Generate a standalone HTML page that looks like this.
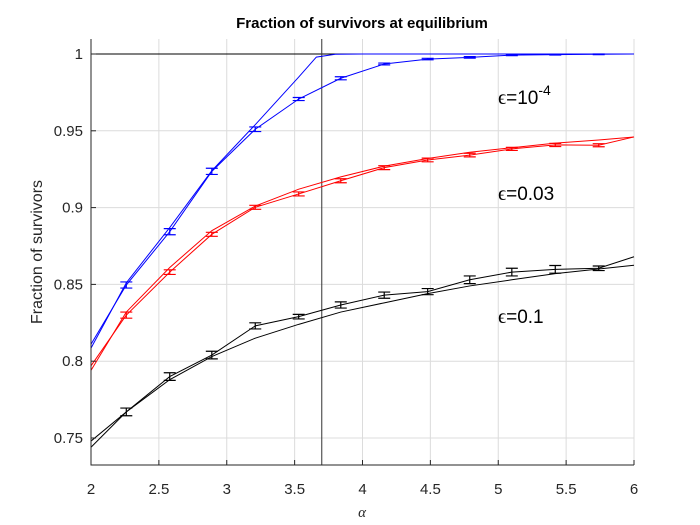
<!DOCTYPE html>
<html><head><meta charset="utf-8"><style>
body{margin:0;background:#fff;overflow:hidden;}
svg{font-family:"Liberation Sans",sans-serif;display:block;}
</style></head><body>
<svg id="chart" width="700" height="525">
<rect x="0" y="0" width="700" height="525" fill="#fff"/>
<g id="grid"></g>
<g id="marks"></g>
<g id="axes"></g>
</svg>
<script>
const xs = [2, 2.26, 2.58, 2.89, 3.21, 3.53, 3.84, 4.16, 4.48, 4.79, 5.1, 5.42, 5.74, 6];
const blueSim = [0.811, 0.8496, 0.8843, 0.9236, 0.951, 0.9707, 0.9842, 0.9935, 0.9967, 0.9978, 0.9993, 0.9996, 0.9998, 1.0];
const blueTheoryX = [2, 2.26, 2.58, 2.89, 3.21, 3.53, 3.66, 3.8, 4, 6];
const blueTheory = [0.8085, 0.851, 0.887, 0.924, 0.954, 0.985, 0.998, 0.9998, 1.0, 1.0];
const redSim = [0.797, 0.830, 0.858, 0.8826, 0.9002, 0.9089, 0.9175, 0.926, 0.931, 0.9342, 0.9382, 0.9408, 0.9406, 0.946];
const redTheory = [0.794, 0.832, 0.861, 0.885, 0.901, 0.912, 0.920, 0.927, 0.932, 0.936, 0.939, 0.942, 0.944, 0.946];
const blackSim = [0.748, 0.767, 0.790, 0.804, 0.823, 0.829, 0.8366, 0.843, 0.8453, 0.853, 0.858, 0.8598, 0.8605, 0.868];
const blackTheory = [0.744, 0.767, 0.788, 0.803, 0.815, 0.824, 0.832, 0.838, 0.844, 0.849, 0.853, 0.857, 0.860, 0.8625];
const errBlue = [0, 0.002, 0.002, 0.002, 0.0015, 0.001, 0.001, 0.0006, 0.0005, 0.0005, 0.0004, 0.0003, 0.0002, 0];
const errRed = [0, 0.002, 0.0015, 0.0013, 0.0013, 0.0013, 0.0013, 0.0013, 0.0012, 0.0012, 0.001, 0.001, 0.001, 0];
const errBlack = [0, 0.0025, 0.0025, 0.0025, 0.002, 0.0015, 0.002, 0.002, 0.002, 0.0025, 0.0025, 0.0025, 0.0015, 0];
const xTicks = [2, 2.5, 3, 3.5, 4, 4.5, 5, 5.5, 6];
const xTickLabels = ["2","2.5","3","3.5","4","4.5","5","5.5","6"];
const yTicks = [0.75, 0.8, 0.85, 0.9, 0.95, 1];
const yTickLabels = ["0.75","0.8","0.85","0.9","0.95","1"];
const vLineX = 3.7;

const L=91,R=634,T=39,B=465;
const X=v=>L+(v-2)/4*(R-L);
const Y=v=>54+(1-v)/0.05*76.8;
const NS="http://www.w3.org/2000/svg";
const svg=document.getElementById('chart');
function mk(tag,attrs,parent){const e=document.createElementNS(NS,tag);for(const k in attrs)e.setAttribute(k,attrs[k]);parent.appendChild(e);return e;}
const grid=document.getElementById('grid'),marks=document.getElementById('marks'),axes=document.getElementById('axes');

xTicks.forEach((t,i)=>{
  const g=mk('line',{x1:X(t),x2:X(t),y1:T,y2:B,stroke:'#dcdcdc','stroke-width':1},grid);
  
  
  const tk=mk('line',{x1:X(t),x2:X(t),y1:B,y2:B-5,stroke:'#262626'},axes);
  
  
  const lb=mk('text',{x:X(t),y:B+29,'text-anchor':'middle','font-size':15,fill:'#262626'},axes);
  lb.textContent=xTickLabels[i];
  
  
});
yTicks.forEach((t,i)=>{
  const g=mk('line',{x1:L,x2:R,y1:Y(t),y2:Y(t),stroke:'#dcdcdc','stroke-width':1},grid);
  
  
  const tk=mk('line',{x1:L,x2:L+5,y1:Y(t),y2:Y(t),stroke:'#262626'},axes);
  
  
  const lb=mk('text',{x:L-8,y:Y(t)+5,'text-anchor':'end','font-size':15,fill:'#262626'},axes);
  lb.textContent=yTickLabels[i];
  
  
});

function line(xv,yv,color,name){
  const p=mk('polyline',{points:xv.map((x,i)=>X(x)+','+Y(yv[i])).join(' '),fill:'none',stroke:color,'stroke-width':1},marks);
  
  
}
function errs(yv,ev,color,name){
  for(let i=1;i<xs.length-1;i++){
    const x=X(xs[i]),y1=Y(yv[i]+ev[i]),y2=Y(yv[i]-ev[i]);
    const g=mk('path',{d:`M${x},${y1}V${y2}M${x-6},${y1}H${x+6}M${x-6},${y2}H${x+6}`,stroke:color,'stroke-width':1.2,fill:'none'},marks);
    
    
  }
}
const h=mk('line',{x1:L,x2:R,y1:Y(1),y2:Y(1),stroke:'#000','stroke-width':1},marks);


const v=mk('line',{x1:X(vLineX),x2:X(vLineX),y1:T,y2:B,stroke:'#333','stroke-width':1},marks);



line(blueTheoryX,blueTheory,'#0000ff','blue-theory-line');
line(xs,blueSim,'#0000ff','blue-simulation-line');
errs(blueSim,errBlue,'#0000ff','blue-error-bar');
line(xs,redTheory,'#ff0000','red-theory-line');
line(xs,redSim,'#ff0000','red-simulation-line');
errs(redSim,errRed,'#ff0000','red-error-bar');
line(xs,blackTheory,'#000','black-theory-line');
line(xs,blackSim,'#000','black-simulation-line');
errs(blackSim,errBlack,'#000','black-error-bar');

const box=mk('path',{d:`M${L},${T}V${B}H${R}`,stroke:'#262626',fill:'none','stroke-width':1},axes);



function t(x,y,txt,attrs,name){const e=document.createElementNS(NS,'text');e.setAttribute('x',x);e.setAttribute('y',y);for(const k in attrs)e.setAttribute(k,attrs[k]);e.innerHTML=txt;


svg.appendChild(e);return e;}
t(362,28,'Fraction of survivors at equilibrium',{'text-anchor':'middle','font-size':15,'font-weight':'bold'},'chart-title');
t(362,517,'α',{'text-anchor':'middle','font-size':15,'font-style':'italic','font-family':'Liberation Serif, serif',fill:'#262626'},'x-axis-title');
t(0,0,'Fraction of survivors',{'text-anchor':'middle','font-size':16,fill:'#262626',transform:'translate(42,252) rotate(-90)'},'y-axis-title');
t(498,104,'<tspan font-family="Liberation Serif, serif" font-size="20">ϵ</tspan>=10<tspan dy="-9" font-size="14">-4</tspan>',{'font-size':19},'label-eps-1e-4');
t(498,200,'<tspan font-family="Liberation Serif, serif" font-size="20">ϵ</tspan>=0.03',{'font-size':19},'label-eps-0.03');
t(498,323,'<tspan font-family="Liberation Serif, serif" font-size="20">ϵ</tspan>=0.1',{'font-size':19},'label-eps-0.1');
</script>
</body></html>
